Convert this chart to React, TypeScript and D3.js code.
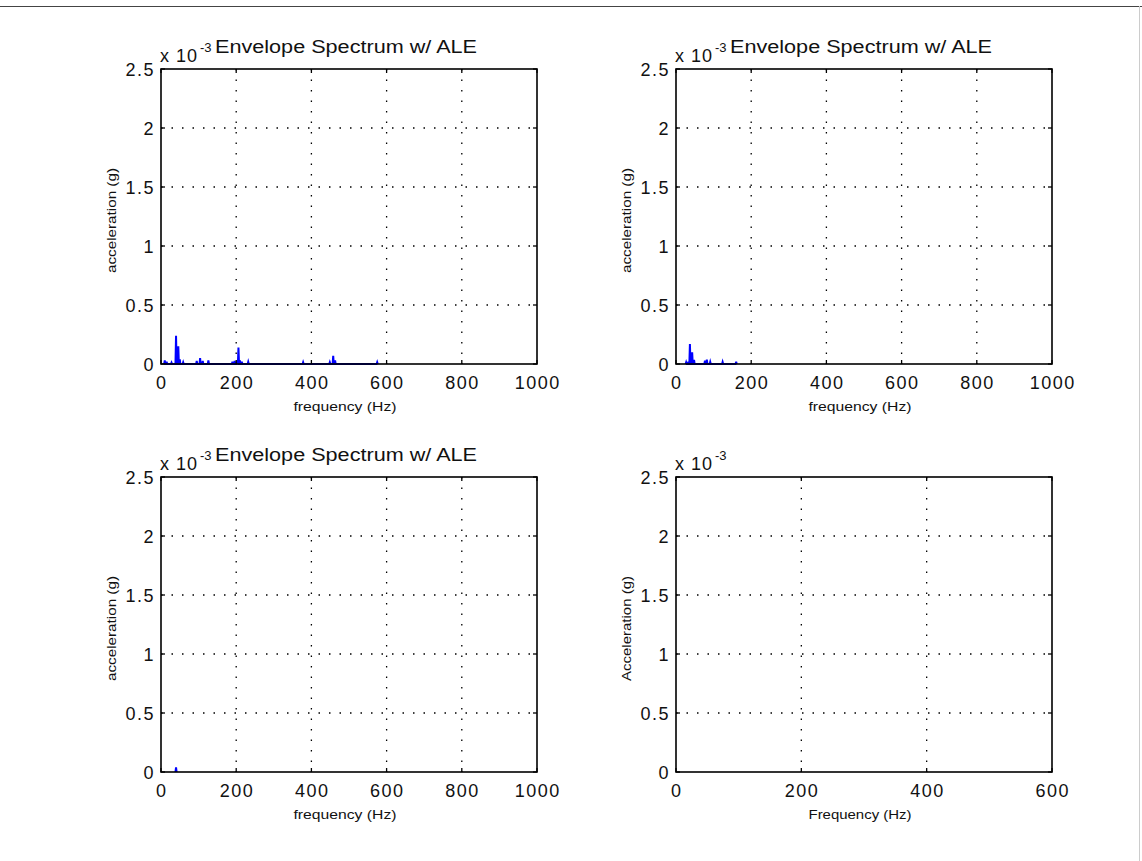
import React from "react";
import * as d3 from "d3";

// values in units of 1e-3 g, [frequency Hz, amplitude]
const peaksTopLeft: [number, number][] = [
  [10, 0.03], [15, 0.02], [28, 0.012], [40, 0.24], [46, 0.15], [50, 0.04],
  [59, 0.015], [95, 0.025], [104, 0.05], [111, 0.025], [126, 0.03],
  [190, 0.02], [196, 0.025], [203, 0.03], [206, 0.14], [210, 0.03],
  [215, 0.02], [232, 0.018], [378, 0.015], [449, 0.015], [458, 0.07],
  [463, 0.03], [575, 0.015],
];
const peaksTopRight: [number, number][] = [
  [27, 0.015], [33, 0.02], [37, 0.17], [43, 0.1], [48, 0.035], [77, 0.028],
  [82, 0.037], [91, 0.018], [124, 0.017], [160, 0.02],
];
const peaksBottomLeft: [number, number][] = [[40, 0.04]];
const peaksBottomRight: [number, number][] = [];

const xTicksA = [0, 200, 400, 600, 800, 1000];
const xTicksB = [0, 200, 400, 600];
const yTicks = [0, 0.5, 1, 1.5, 2, 2.5];

const TITLE = "Envelope Spectrum w/ ALE";

interface PanelDef {
  left: number;
  top: number;
  peaks: [number, number][];
  xMax: number;
  xTicks: number[];
  title: string | null;
  xLabel: string;
  yLabel: string;
}

const panels: PanelDef[] = [
  { left: 161, top: 69, peaks: peaksTopLeft, xMax: 1000, xTicks: xTicksA, title: TITLE, xLabel: "frequency (Hz)", yLabel: "acceleration (g)" },
  { left: 676, top: 69, peaks: peaksTopRight, xMax: 1000, xTicks: xTicksA, title: TITLE, xLabel: "frequency (Hz)", yLabel: "acceleration (g)" },
  { left: 161, top: 477, peaks: peaksBottomLeft, xMax: 1000, xTicks: xTicksA, title: TITLE, xLabel: "frequency (Hz)", yLabel: "acceleration (g)" },
  { left: 676, top: 477, peaks: peaksBottomRight, xMax: 600, xTicks: xTicksB, title: null, xLabel: "Frequency (Hz)", yLabel: "Acceleration (g)" },
];

const W = 376;
const H = 295;
const font = "'Liberation Sans', Arial, sans-serif";

const Panel = ({ p }: { p: PanelDef }) => {
  const x = d3.scaleLinear().domain([0, p.xMax]).range([p.left, p.left + W]);
  const y = d3.scaleLinear().domain([0, 2.5]).range([p.top + H, p.top]);
  const bottom = p.top + H;

  // stems as a single polyline
  const pts: [number, number][] = [];
  p.peaks.forEach(([f, v]) => {
    pts.push([f - 1.5, 0], [f, v], [f + 1.5, 0]);
  });
  const path = d3
    .line<[number, number]>()
    .x((d) => x(d[0]))
    .y((d) => y(d[1]))(pts);

  const tl = 4;
  return (
    <g>
      {/* grid */}
      {p.xTicks.slice(1, -1).map((t) => (
        <line key={"gx" + t} x1={x(t)} x2={x(t)} y1={p.top} y2={bottom} stroke="#000" strokeWidth={1.3} strokeDasharray="1.5,9" />
      ))}
      {yTicks.slice(1, -1).map((t) => (
        <line key={"gy" + t} x1={p.left} x2={p.left + W} y1={y(t)} y2={y(t)} stroke="#000" strokeWidth={1.3} strokeDasharray="1.5,9" />
      ))}
      {path && pts.length > 0 && (
        <path d={path} fill="none" stroke="#0000ff" strokeWidth={2} />
      )}
      {/* ticks */}
      {p.xTicks.map((t) => (
        <g key={"tx" + t}>
          <line x1={x(t)} x2={x(t)} y1={bottom} y2={bottom - tl} stroke="#000" strokeWidth={1.3} />
          <line x1={x(t)} x2={x(t)} y1={p.top} y2={p.top + tl} stroke="#000" strokeWidth={1.3} />
          <text x={x(t) + 0.75} y={bottom + 25} textAnchor="middle" fontSize={18} letterSpacing={1.5} fontFamily={font} fill="#111">
            {t}
          </text>
        </g>
      ))}
      {yTicks.map((t) => (
        <g key={"ty" + t}>
          <line x1={p.left} x2={p.left + tl} y1={y(t)} y2={y(t)} stroke="#000" strokeWidth={1.3} />
          <line x1={p.left + W} x2={p.left + W - tl} y1={y(t)} y2={y(t)} stroke="#000" strokeWidth={1.3} />
          <text x={p.left - 6} y={y(t) + 6.5} textAnchor="end" fontSize={18} letterSpacing={1.5} fontFamily={font} fill="#111">
            {t}
          </text>
        </g>
      ))}
      {/* box */}
      <rect x={p.left} y={p.top} width={W} height={H} fill="none" stroke="#000" strokeWidth={1.6} />
      {/* exponent */}
      <text x={p.left - 1} y={p.top - 7} fontSize={18} letterSpacing={1} fontFamily={font} fill="#111">
        x 10
      </text>
      <text x={p.left + 39} y={p.top - 17} fontSize={13} fontFamily={font} fill="#111">
        -3
      </text>
      {p.title && (
        <text x={p.left + W / 2 - 3} y={p.top - 16} textAnchor="middle" fontSize={18} textLength={262} lengthAdjust="spacingAndGlyphs" fontFamily={font} fill="#111">
          {p.title}
        </text>
      )}
      <text x={p.left + W / 2 - 4} y={bottom + 47} textAnchor="middle" fontSize={12} textLength={103} lengthAdjust="spacingAndGlyphs" fontFamily={font} fill="#111">
        {p.xLabel}
      </text>
      <text
        transform={`translate(${p.left - 45},${p.top + H / 2 + 4}) rotate(-90)`}
        textAnchor="middle"
        fontSize={12}
        textLength={105}
        lengthAdjust="spacingAndGlyphs"
        fontFamily={font}
        fill="#111"
      >
        {p.yLabel}
      </text>
    </g>
  );
};

const App = () => {
  return (
    <div style={{ position: "absolute", left: 0, top: 0 }}>
      <svg width={1142} height={861} style={{ display: "block", background: "#fff" }}>
        <line x1={0} x2={1142} y1={6.5} y2={6.5} stroke="#444" strokeWidth={1} />
        <line x1={1139.5} x2={1139.5} y1={6} y2={861} stroke="#ccc" strokeWidth={1} />
        {panels.map((p, i) => (
          <Panel key={i} p={p} />
        ))}
      </svg>
    </div>
  );
};

export default App;
